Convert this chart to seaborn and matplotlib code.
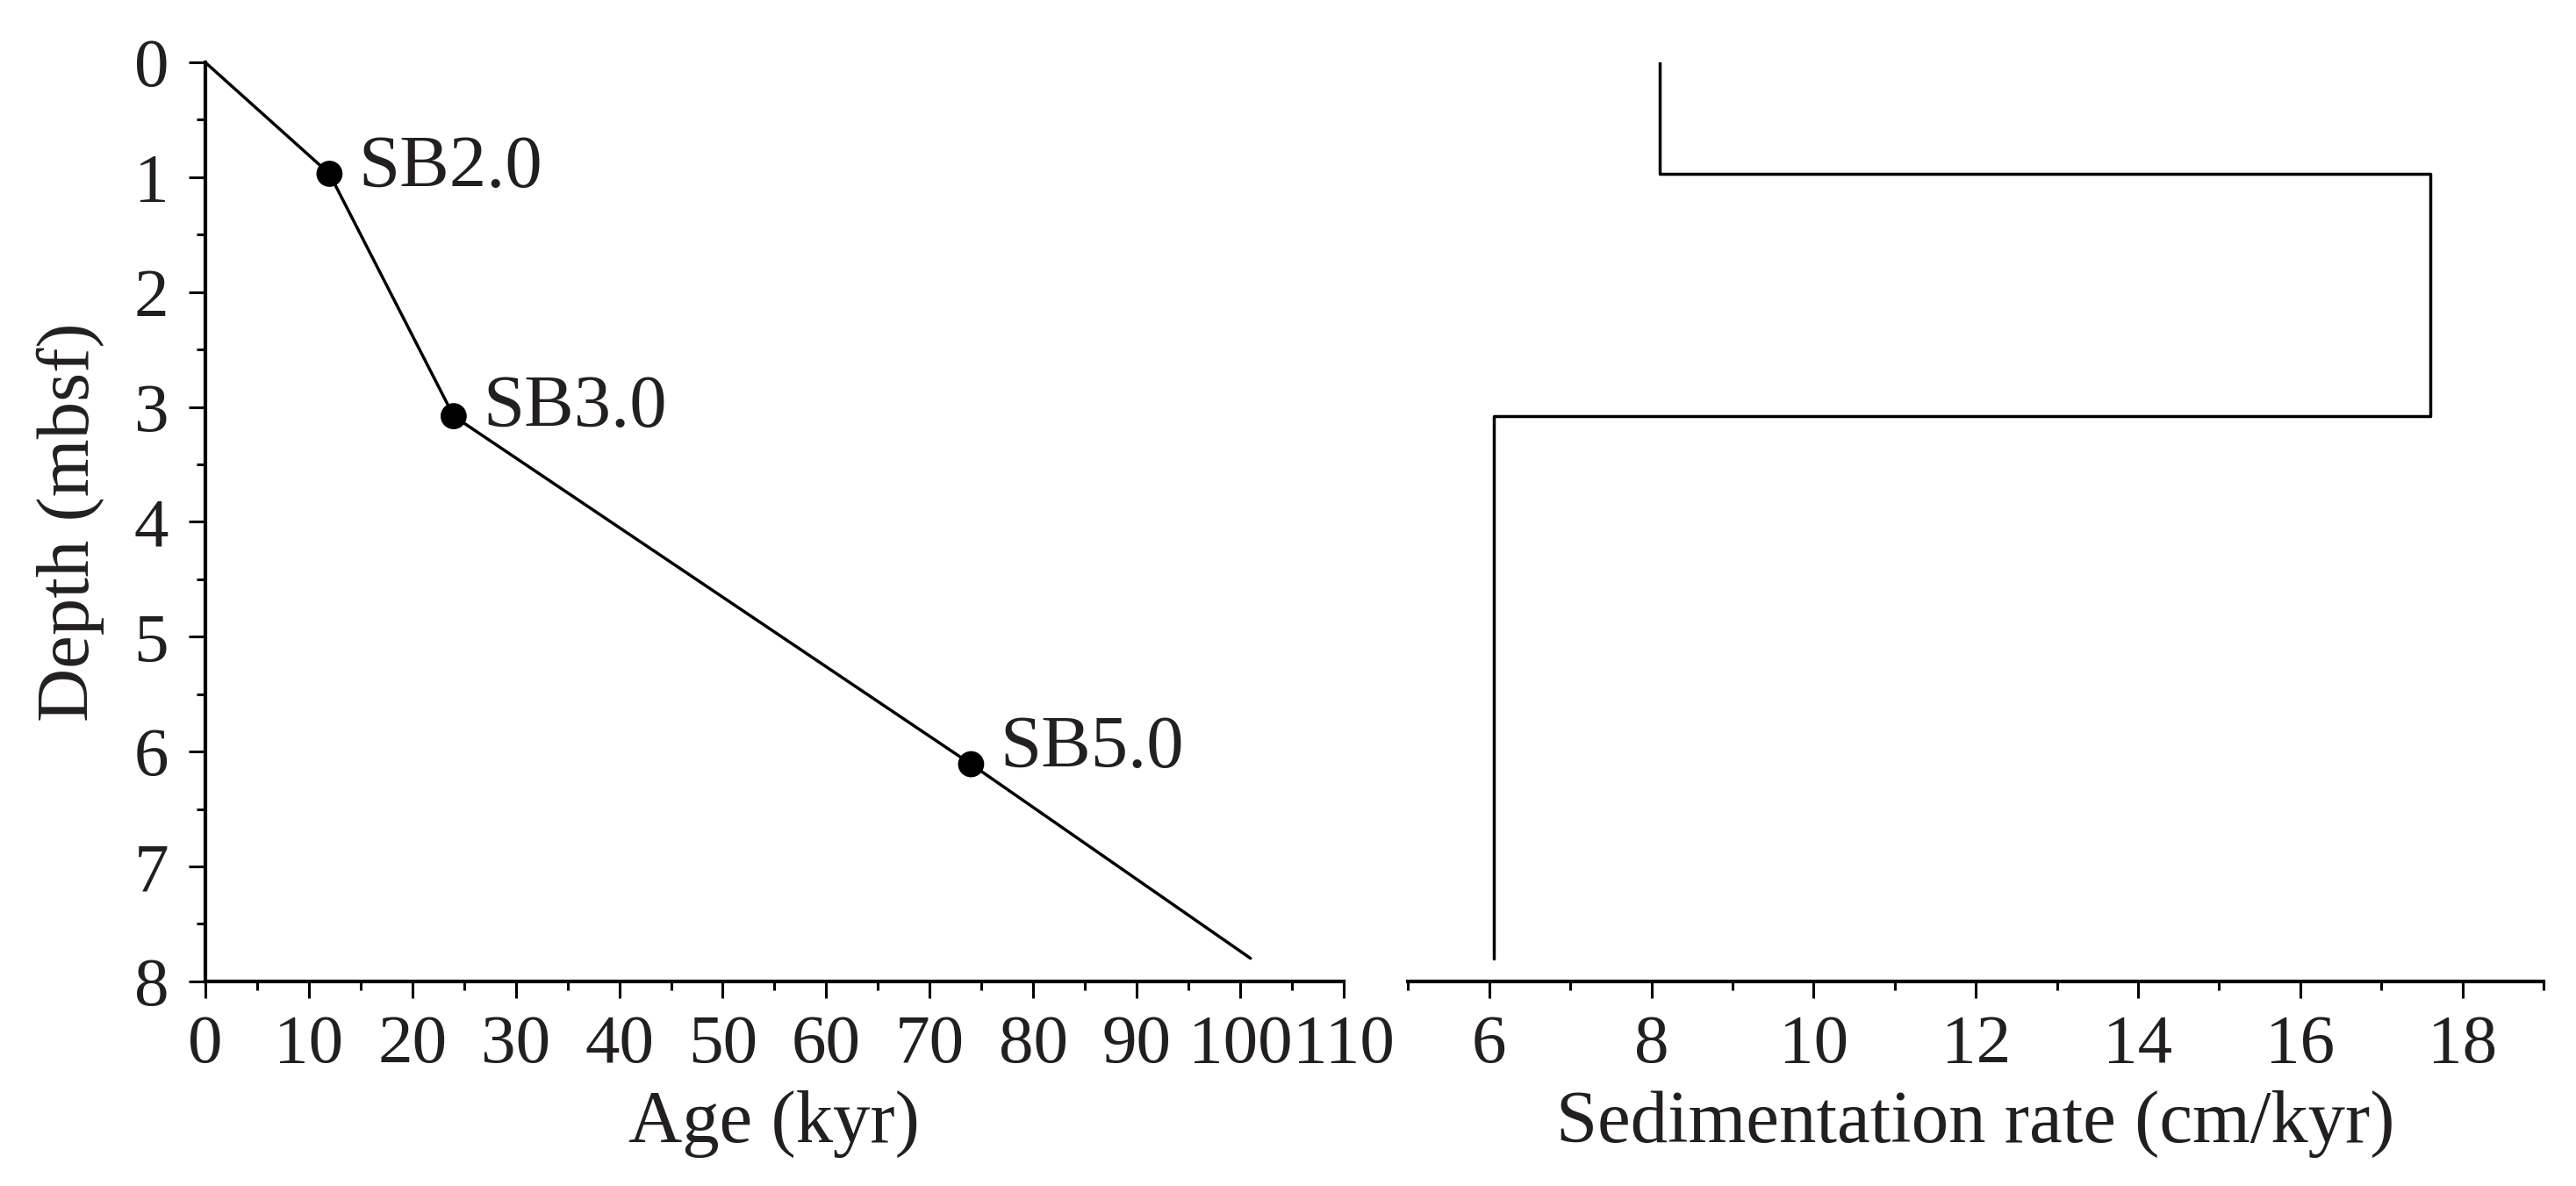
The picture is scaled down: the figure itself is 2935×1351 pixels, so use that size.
import matplotlib
matplotlib.use("Agg")
import matplotlib.pyplot as plt
from matplotlib.ticker import MultipleLocator
import seaborn as sns
import pandas as pd

# Age-depth model
ages = [0, 12, 24, 74, 101]          # kyr
depths = [0, 0.97, 3.08, 6.11, 7.8]  # mbsf

# Sequence boundaries
sb_names = ["SB2.0", "SB3.0", "SB5.0"]
sb_ages = [12, 24, 74]
sb_depths = [0.97, 3.08, 6.11]

# Sedimentation rate per interval
rate_tops = [0, 0.97, 3.08]
rate_bases = [0.97, 3.08, 7.8]
rates = [8.1, 17.6, 6.06]  # cm/kyr

TEXT = "#231f20"

sns.set_style("ticks")
plt.rcParams["font.family"] = ["Liberation Serif", "DejaVu Serif"]
plt.rcParams["text.color"] = TEXT
plt.rcParams["axes.labelcolor"] = TEXT
plt.rcParams["xtick.color"] = "black"
plt.rcParams["ytick.color"] = "black"
plt.rcParams["xtick.labelcolor"] = TEXT
plt.rcParams["ytick.labelcolor"] = TEXT

fig = plt.figure(figsize=(29.35, 13.51), dpi=100)
ax1 = fig.add_axes([0.0797, 0.1726, 0.4419, 0.7748])
ax2 = fig.add_axes([0.5466, 0.1726, 0.4408, 0.7748])

# left panel: age vs depth
model = pd.DataFrame({"age": ages, "depth": depths})
sns.lineplot(data=model, x="age", y="depth", sort=False, estimator=None,
             color="black", linewidth=2.5, ax=ax1)
sb = pd.DataFrame({"name": sb_names, "age": sb_ages, "depth": sb_depths})
sns.scatterplot(data=sb, x="age", y="depth", color="black", s=460,
                edgecolor="none", zorder=3, ax=ax1)
offsets = {"SB2.0": (24, 4), "SB3.0": (24, 6), "SB5.0": (24, 12)}
for name, a, d in zip(sb_names, sb_ages, sb_depths):
    ax1.annotate(name, (a, d), xytext=offsets[name], textcoords="offset points",
                 va="center", ha="left", fontsize=61, color=TEXT)

ax1.set_xlim(0, 110)
ax1.set_ylim(8, 0)
ax1.xaxis.set_major_locator(MultipleLocator(10))
ax1.xaxis.set_minor_locator(MultipleLocator(5))
ax1.yaxis.set_major_locator(MultipleLocator(1))
ax1.yaxis.set_minor_locator(MultipleLocator(0.5))
ax1.set_xlabel("Age (kyr)", fontsize=61, labelpad=11)
ax1.set_ylabel("Depth (mbsf)", fontsize=61, labelpad=24)
sns.despine(ax=ax1)

# right panel: sedimentation rate step curve
step_x, step_y = [], []
for top, base, r in zip(rate_tops, rate_bases, rates):
    step_x += [r, r]
    step_y += [top, base]
steps = pd.DataFrame({"rate": step_x, "depth": step_y})
sns.lineplot(data=steps, x="rate", y="depth", sort=False, estimator=None,
             color="black", linewidth=2.5, ax=ax2)
ax2.set_xlim(5, 19)
ax2.set_ylim(8, 0)
ax2.xaxis.set_major_locator(MultipleLocator(2))
ax2.xaxis.set_minor_locator(MultipleLocator(1))
ax2.set_xlabel("Sedimentation rate (cm/kyr)", fontsize=61, labelpad=11)
ax2.set_ylabel("")
ax2.set_yticks([])
sns.despine(ax=ax2, left=True)

for ax in (ax1, ax2):
    for sp in ax.spines.values():
        sp.set_linewidth(3)
        sp.set_color("black")
    ax.tick_params(which="major", direction="out", length=14, width=2.2,
                   labelsize=57, pad=13)
    ax.tick_params(which="minor", direction="out", length=7, width=2.2)
ax1.tick_params(axis="y", which="major", pad=16)

fig.savefig("out.png", dpi=100)
